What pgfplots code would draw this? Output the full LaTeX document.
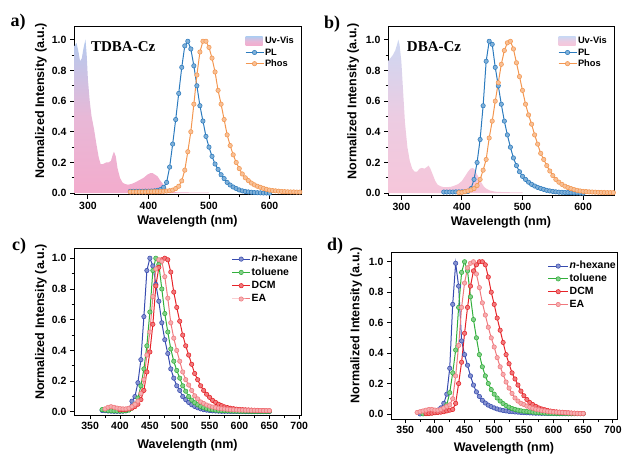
\documentclass[border=0pt]{standalone}
\usepackage{pgfplots}
\pgfplotsset{compat=1.18}
\usepackage{pgfplotstable}
\usepackage{fontspec}
\setmainfont{Liberation Sans}
\newfontfamily\serifb{Liberation Serif}

\definecolor{plc}{RGB}{44,123,190}
\definecolor{phc}{RGB}{243,150,80}
\definecolor{hexc}{RGB}{55,75,175}
\definecolor{tolc}{RGB}{50,175,60}
\definecolor{dcmc}{RGB}{230,35,40}
\definecolor{eac}{RGB}{240,120,125}
\definecolor{uvtA}{RGB}{180,202,238}
\definecolor{uvmA}{RGB}{232,184,215}
\definecolor{uvbA}{RGB}{243,172,205}
\definecolor{uvtB}{RGB}{205,215,242}
\definecolor{uvmB}{RGB}{236,204,226}
\definecolor{uvbB}{RGB}{246,198,218}

\pgfplotstableread{
x y
278 0.96
281 0.98
284 0.93
287 0.86
290 0.88
292 0.93
294 0.97
296 1.00
298 0.90
300 0.74
303 0.60
306 0.50
310 0.42
314 0.32
318 0.23
321 0.19
325 0.19
330 0.20
334 0.20
338 0.21
341 0.25
343 0.27
346 0.24
349 0.16
353 0.10
357 0.07
361 0.06
366 0.055
372 0.06
378 0.07
385 0.085
392 0.10
398 0.12
403 0.13
407 0.13
411 0.12
415 0.11
419 0.085
423 0.065
427 0.04
431 0.02
436 0.01
445 0.006
470 0.004
500 0.003
}\UVa

\pgfplotstableread{
x y
370 0.012
375 0.012
380 0.012
385 0.012
390 0.012
395 0.013
400 0.013
405 0.014
410 0.015
415 0.018
420 0.024
425 0.038
430 0.07
435 0.17
440 0.32
445 0.48
450 0.65
455 0.82
460 0.96
465 0.99
470 0.94
475 0.83
480 0.70
485 0.57
490 0.47
495 0.37
500 0.30
505 0.24
510 0.19
515 0.155
520 0.12
525 0.095
530 0.07
535 0.053
540 0.04
545 0.03
550 0.021
555 0.015
560 0.011
565 0.008
570 0.006
575 0.004
580 0.003
585 0.002
590 0.001
595 0.001
600 0.000
}\PLa

\pgfplotstableread{
x y
370 0.008
375 0.008
380 0.008
385 0.008
390 0.008
395 0.008
400 0.009
405 0.009
410 0.010
415 0.010
420 0.011
425 0.012
430 0.014
435 0.016
440 0.020
445 0.030
450 0.045
455 0.08
460 0.15
465 0.27
470 0.40
475 0.58
480 0.77
485 0.92
490 0.99
495 0.99
500 0.95
505 0.88
510 0.79
515 0.67
520 0.58
525 0.48
530 0.38
535 0.31
540 0.25
545 0.20
550 0.16
555 0.125
560 0.10
565 0.082
570 0.066
575 0.054
580 0.045
585 0.038
590 0.031
595 0.025
600 0.020
605 0.017
610 0.015
615 0.013
620 0.011
625 0.010
630 0.009
635 0.008
640 0.008
645 0.007
650 0.007
}\Phosa

\pgfplotstableread{
x y
278 0.86
282 0.88
286 0.90
290 0.93
293 0.97
295 1.00
297 0.97
300 0.86
303 0.66
306 0.46
310 0.30
314 0.21
318 0.16
322 0.14
326 0.14
330 0.16
334 0.165
338 0.16
342 0.17
345 0.18
348 0.16
352 0.12
356 0.08
360 0.055
365 0.045
370 0.04
376 0.04
382 0.042
388 0.05
394 0.06
400 0.08
405 0.11
410 0.14
414 0.16
418 0.165
421 0.155
424 0.13
428 0.10
432 0.07
436 0.045
440 0.03
446 0.018
455 0.01
470 0.007
500 0.005
}\UVb

\pgfplotstableread{
x y
370 0.008
375 0.008
380 0.008
385 0.008
390 0.009
395 0.009
400 0.009
405 0.010
410 0.012
415 0.03
420 0.09
425 0.20
430 0.35
435 0.57
440 0.86
445 0.99
450 0.97
455 0.82
460 0.70
465 0.58
470 0.47
475 0.38
480 0.30
485 0.23
490 0.18
495 0.14
500 0.11
505 0.09
510 0.072
515 0.058
520 0.047
525 0.038
530 0.031
535 0.025
540 0.019
545 0.015
550 0.012
555 0.009
560 0.007
565 0.006
570 0.005
575 0.004
580 0.003
585 0.002
590 0.002
595 0.001
600 0.000
}\PLb

\pgfplotstableread{
x y
395 0.004
400 0.006
405 0.010
410 0.015
415 0.022
420 0.030
425 0.050
430 0.09
435 0.15
440 0.22
445 0.36
450 0.47
455 0.60
460 0.72
465 0.84
470 0.93
475 0.98
480 0.99
485 0.94
490 0.85
495 0.76
500 0.67
505 0.58
510 0.51
515 0.45
520 0.38
525 0.32
530 0.26
535 0.22
540 0.18
545 0.145
550 0.115
555 0.09
560 0.072
565 0.058
570 0.046
575 0.037
580 0.030
585 0.024
590 0.019
595 0.015
600 0.012
605 0.011
610 0.009
615 0.008
620 0.007
625 0.006
630 0.005
635 0.005
640 0.004
645 0.004
650 0.004
}\Phosb

\pgfplotstableread{
x hex tol dcm ea
370 0.010 0.015 0.005 0.010
375 0.008 0.012 0.006 0.020
380 0.006 0.010 0.008 0.030
385 0.005 0.008 0.010 0.034
390 0.004 0.007 0.012 0.030
395 0.004 0.006 0.013 0.025
400 0.004 0.006 0.014 0.022
405 0.005 0.006 0.015 0.020
410 0.007 0.008 0.016 0.020
415 0.020 0.012 0.020 0.024
420 0.070 0.025 0.025 0.035
425 0.100 0.050 0.035 0.050
430 0.190 0.090 0.050 0.070
435 0.340 0.170 0.080 0.120
440 0.620 0.280 0.140 0.210
445 0.920 0.430 0.260 0.370
450 1.000 0.650 0.390 0.520
455 0.950 0.920 0.570 0.750
460 0.830 1.000 0.820 0.930
465 0.720 0.960 0.940 0.990
470 0.580 0.800 0.990 0.980
475 0.470 0.640 1.000 0.880
480 0.380 0.520 0.990 0.740
485 0.280 0.410 0.910 0.580
490 0.220 0.330 0.780 0.480
495 0.170 0.270 0.680 0.400
500 0.140 0.220 0.590 0.330
505 0.100 0.170 0.500 0.260
510 0.080 0.135 0.430 0.210
515 0.062 0.100 0.370 0.175
520 0.047 0.077 0.310 0.140
525 0.036 0.060 0.250 0.105
530 0.027 0.047 0.210 0.085
535 0.020 0.036 0.170 0.065
540 0.015 0.028 0.140 0.055
545 0.012 0.022 0.115 0.045
550 0.009 0.017 0.095 0.038
555 0.007 0.014 0.075 0.032
560 0.006 0.012 0.062 0.028
565 0.005 0.010 0.050 0.024
570 0.004 0.009 0.041 0.021
575 0.004 0.008 0.033 0.019
580 0.004 0.007 0.028 0.017
585 0.003 0.006 0.024 0.015
590 0.003 0.005 0.021 0.014
595 0.003 0.005 0.018 0.013
600 0.003 0.004 0.016 0.012
605 0.003 0.004 0.015 0.012
610 0.002 0.004 0.014 0.011
615 0.002 0.004 0.013 0.011
620 0.002 0.003 0.012 0.010
625 0.002 0.003 0.011 0.010
630 0.002 0.003 0.010 0.009
635 0.002 0.003 0.009 0.009
640 0.002 0.003 0.009 0.008
645 0.002 0.003 0.008 0.008
650 0.002 0.003 0.008 0.008
}\Cdata

\pgfplotstableread{
x hex tol dcm ea
370 0.000 0.000 0.000 0.010
375 0.000 0.000 0.000 0.015
380 0.002 0.001 0.000 0.020
385 0.005 0.003 0.002 0.025
390 0.008 0.005 0.003 0.030
395 0.012 0.007 0.005 0.030
400 0.018 0.010 0.008 0.026
405 0.025 0.013 0.010 0.025
410 0.040 0.018 0.012 0.030
415 0.070 0.030 0.015 0.040
420 0.130 0.060 0.020 0.050
425 0.300 0.140 0.025 0.060
430 0.720 0.270 0.030 0.100
435 0.990 0.420 0.070 0.250
440 0.840 0.700 0.200 0.450
445 0.480 0.930 0.340 0.700
450 0.390 1.000 0.530 0.860
455 0.320 0.940 0.700 0.960
460 0.250 0.770 0.840 0.990
465 0.190 0.620 0.940 1.000
470 0.145 0.500 0.980 0.920
475 0.115 0.390 1.000 0.830
480 0.090 0.310 1.000 0.730
485 0.072 0.250 0.980 0.650
490 0.058 0.200 0.900 0.570
495 0.048 0.160 0.800 0.500
500 0.040 0.130 0.720 0.440
505 0.033 0.105 0.630 0.370
510 0.027 0.085 0.550 0.310
515 0.023 0.068 0.470 0.260
520 0.020 0.055 0.390 0.210
525 0.017 0.045 0.330 0.170
530 0.015 0.036 0.270 0.135
535 0.013 0.030 0.230 0.105
540 0.012 0.025 0.190 0.085
545 0.010 0.021 0.150 0.070
550 0.009 0.018 0.120 0.062
555 0.008 0.016 0.095 0.052
560 0.007 0.014 0.075 0.044
565 0.006 0.012 0.062 0.037
570 0.005 0.010 0.050 0.031
575 0.005 0.009 0.040 0.027
580 0.004 0.007 0.033 0.023
585 0.004 0.006 0.028 0.020
590 0.003 0.005 0.023 0.017
595 0.003 0.004 0.019 0.015
600 0.003 0.004 0.016 0.013
605 0.002 0.003 0.014 0.012
610 0.002 0.003 0.012 0.011
615 0.002 0.003 0.011 0.010
620 0.002 0.003 0.009 0.008
625 0.002 0.002 0.008 0.007
630 0.002 0.002 0.006 0.006
635 0.002 0.002 0.005 0.005
640 0.002 0.002 0.004 0.004
645 0.002 0.002 0.003 0.003
650 0.002 0.002 0.003 0.003
}\Ddata

\pgfplotsset{
  panel/.style={
    scale only axis,
    anchor=south west,
    axis line style={line width=1pt},
    every tick/.style={black, line width=0.9pt},
    tick align=outside,
    major tick length=4pt,
    minor tick length=2.5pt,
    tick pos=left,
    ytick={0,0.2,0.4,0.6,0.8,1.0},
    minor y tick num=1,
    minor x tick num=1,
    yticklabel style={/pgf/number format/.cd, fixed, fixed zerofill, precision=1},
    /pgf/number format/assume math mode=true,
    tick label style={font=\bfseries\fontsize{10.5}{12}\selectfont},
    label style={font=\bfseries\fontsize{12.5}{14}\selectfont},
    xlabel={Wavelength (nm)},
    ylabel={Normalized Intensity (a.u.)},
    ylabel style={at={(axis description cs:-0.119,0.56)}, anchor=south, inner sep=0pt},
    xlabel style={at={(axis description cs:0.5,0)}, anchor=base, inner sep=0pt, yshift=-30pt},
    legend cell align=left,
    legend style={draw=none, fill=none, inner sep=0pt},
    legend image code/.code={\draw[mark repeat=2,mark phase=2] plot coordinates {(0pt,0pt) (9pt,0pt) (18pt,0pt)};},
  },
  ser/.style={color=#1, line width=1pt, mark=*, mark size=2.2pt,
    mark options={fill=#1!60!white, draw=#1, line width=0.55pt, solid}},
}

\begin{document}
\begin{tikzpicture}
\path[use as bounding box] (0pt,0pt) rectangle (628pt,455pt);

% ---------- a ----------
\begin{axis}[panel, at={(74pt,260pt)}, width=227pt, height=168pt,
  xmin=277, xmax=652, ymin=-0.012, ymax=1.083, xtick={300,400,500,600},
  legend style={at={(1,1)}, anchor=north east, xshift=-6pt, yshift=-9pt,
    font=\bfseries\fontsize{9.3}{10}\selectfont,
    nodes={inner sep=1pt, text height=6.7pt, text depth=1.5pt}, row sep=1pt}]
\addplot[draw=none, top color=uvtA, bottom color=uvbA, middle color=uvmA,
  legend image code/.code={\fill[top color=uvtA, bottom color=uvbA, middle color=uvmA] (0pt,-4pt) rectangle (17pt,4.5pt);}]
  table[x=x,y=y] {\UVa} \closedcycle;
\addplot[ser=plc] table[x=x,y=y] {\PLa};
\addplot[ser=phc] table[x=x,y=y] {\Phosa};
\legend{Uv-Vis, PL, Phos}
\node[anchor=west, inner sep=0pt, font=\serifb\bfseries\fontsize{15}{16}\selectfont] at (axis cs:305,0.955) {TDBA-Cz};
\end{axis}

% ---------- b ----------
\begin{axis}[panel, at={(388pt,259pt)}, width=226pt, height=169pt,
  xmin=278, xmax=651, ymin=-0.018, ymax=1.083, xtick={300,400,500,600},
  ylabel style={at={(axis description cs:-0.128,0.56)}},
  legend style={at={(1,1)}, anchor=north east, xshift=-6pt, yshift=-9pt,
    font=\bfseries\fontsize{9.3}{10}\selectfont,
    nodes={inner sep=1pt, text height=6.7pt, text depth=1.5pt}, row sep=1pt}]
\addplot[draw=none, top color=uvtB, bottom color=uvbB, middle color=uvmB,
  legend image code/.code={\fill[top color=uvtB, bottom color=uvbB, middle color=uvmB] (0pt,-4pt) rectangle (17pt,4.5pt);}]
  table[x=x,y=y] {\UVb} \closedcycle;
\addplot[ser=plc] table[x=x,y=y] {\PLb};
\addplot[ser=phc] table[x=x,y=y] {\Phosb};
\legend{Uv-Vis, PL, Phos}
\node[anchor=west, inner sep=0pt, font=\serifb\bfseries\fontsize{15}{16}\selectfont] at (axis cs:309,0.955) {DBA-Cz};
\end{axis}

% ---------- c ----------
\begin{axis}[panel, at={(74pt,40pt)}, width=227pt, height=166pt,
  xmin=323, xmax=703, ymin=-0.02, ymax=1.06, xtick={350,400,...,700},
  xlabel style={yshift=-3pt},
  legend style={at={(1,1)}, anchor=north east, xshift=-2pt, yshift=-4pt,
    font=\bfseries\fontsize{10.5}{12}\selectfont,
    nodes={inner sep=1pt, text height=7.6pt, text depth=2.2pt}, row sep=1.5pt}]
\addplot[ser=hexc] table[x=x,y=hex] {\Cdata};
\addplot[ser=tolc] table[x=x,y=tol] {\Cdata};
\addplot[ser=dcmc, restrict x to domain=400:650] table[x=x,y=dcm] {\Cdata};
\addplot[ser=eac, restrict x to domain=375:650] table[x=x,y=ea] {\Cdata};
\legend{\textit{n}-hexane, toluene, DCM, EA}
\end{axis}

% ---------- d ----------
\begin{axis}[panel, at={(391pt,36pt)}, width=226pt, height=167pt,
  xmin=326, xmax=707, ymin=-0.033, ymax=1.064, xtick={350,400,...,700},
  xlabel style={yshift=-2pt}, ylabel style={at={(axis description cs:-0.128,0.56)}},
  legend image code/.code={\draw[mark repeat=2,mark phase=2] plot coordinates {(0pt,0pt) (10pt,0pt) (20pt,0pt)};},
  legend style={at={(1,1)}, anchor=north east, xshift=0pt, yshift=-8pt,
    font=\bfseries\fontsize{10.5}{12}\selectfont,
    nodes={inner sep=1pt, text height=7.6pt, text depth=2.2pt}, row sep=1pt}]
\addplot[ser=hexc, restrict x to domain=375:650] table[x=x,y=hex] {\Ddata};
\addplot[ser=tolc, restrict x to domain=380:650] table[x=x,y=tol] {\Ddata};
\addplot[ser=dcmc, restrict x to domain=385:650] table[x=x,y=dcm] {\Ddata};
\addplot[ser=eac] table[x=x,y=ea] {\Ddata};
\legend{\textit{n}-hexane, toluene, DCM, EA}
\end{axis}

% panel letters
\node[font=\serifb\bfseries\fontsize{18}{20}\selectfont] at (18pt,433pt) {a)};
\node[font=\serifb\bfseries\fontsize{18}{20}\selectfont] at (332pt,431pt) {b)};
\node[font=\serifb\bfseries\fontsize{18}{20}\selectfont] at (19pt,209pt) {c)};
\node[font=\serifb\bfseries\fontsize{18}{20}\selectfont] at (335pt,209pt) {d)};
\end{tikzpicture}
\end{document}
